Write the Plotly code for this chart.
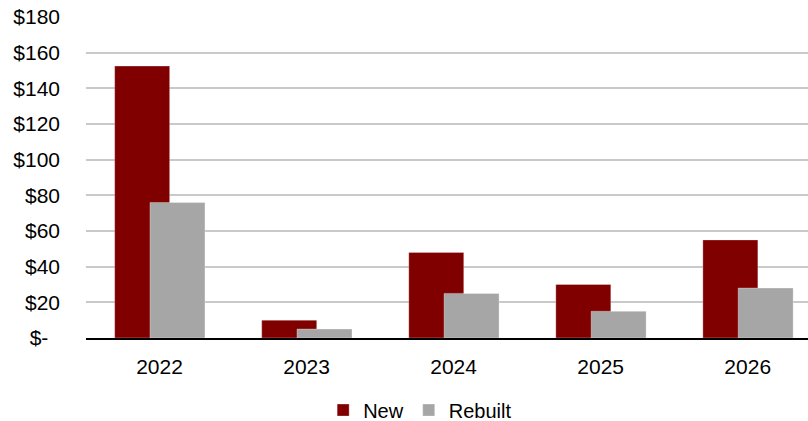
import plotly.graph_objects as go

# Annual spend by category ($)
years = ["2022", "2023", "2024", "2025", "2026"]
new_vals = [152.5, 10, 48, 30, 55]
rebuilt_vals = [76, 5, 25, 15, 28]

y_ticks = [0, 20, 40, 60, 80, 100, 120, 140, 160, 180]
y_tick_text = ["$-\u00a0\u00a0", "$20", "$40", "$60", "$80", "$100", "$120", "$140", "$160", "$180"]

FONT = "Liberation Sans, Arial, sans-serif"
BAR_W = 0.374

fig = go.Figure()
fig.add_trace(go.Bar(
    x=years, y=new_vals, name="New",
    marker=dict(color="#800000", line=dict(color="rgba(255,255,255,0.5)", width=0.6)),
    width=BAR_W, offset=-0.305,
))
fig.add_trace(go.Bar(
    x=years, y=rebuilt_vals, name="Rebuilt",
    marker=dict(color="#A6A6A6", line=dict(color="rgba(255,255,255,0.5)", width=0.6)),
    width=BAR_W, offset=-0.065,
))

fig.update_layout(
    width=808, height=421,
    barmode="overlay",
    plot_bgcolor="white", paper_bgcolor="white",
    margin=dict(l=86, r=0, t=17, b=83),
    font=dict(family=FONT, size=21, color="#000000"),
    showlegend=True,
    legend=dict(
        orientation="h", xref="container", yref="container",
        x=0.52, xanchor="center", y=0.026, yanchor="middle",
        font=dict(size=20), itemwidth=30, traceorder="normal",
    ),
    xaxis=dict(
        type="category", range=[-0.5, 4.41],
        showgrid=False, showline=True, linecolor="#000000", linewidth=1.6,
        ticks="", ticklabelstandoff=9, tickfont=dict(size=21),
    ),
    yaxis=dict(
        range=[0, 180], tickvals=y_ticks, ticktext=y_tick_text,
        showgrid=True, gridcolor="#C9C9C9", gridwidth=1.5,
        zeroline=False, showline=False, ticks="",
        ticklabelstandoff=25, tickfont=dict(size=21),
    ),
)

fig.write_html("out.html")
